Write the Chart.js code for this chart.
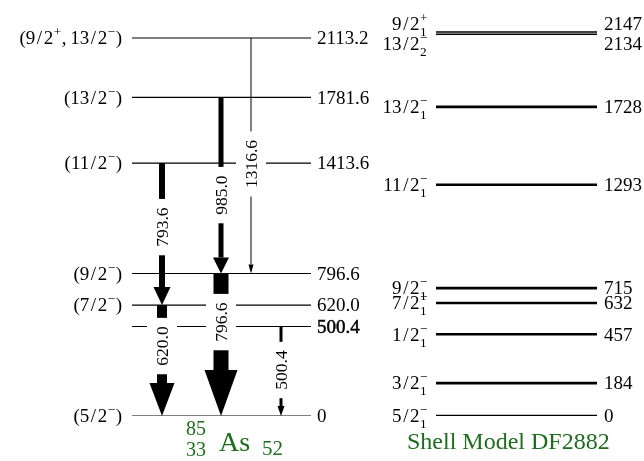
<!DOCTYPE html>
<html lang="en">
<head>
<meta charset="utf-8">
<title>85As level scheme</title>
<script src="https://cdn.jsdelivr.net/npm/chart.js@4.4.1/dist/chart.umd.min.js"></script>
<style>
  html, body { margin: 0; padding: 0; background: #fff; }
  #schema { display: block; }
</style>
</head>
<body>
<canvas id="schema" width="644" height="461"></canvas>
<script>
// === Données : niveaux expérimentaux (keV) ===
const niveauxExp = [2113.2, 1781.6, 1413.6, 796.6, 620.0, 500.4, 0];
const etiquettesExp = ["2113.2", "1781.6", "1413.6", "796.6", "620.0", "500.4", "0"];
const spinsExp = ["(9/2^{+},\u200913/2^{−})", "(13/2^{−})", "(11/2^{−})", "(9/2^{−})", "(7/2^{−})", "", "(5/2^{−})"];

// === Données : modèle en couches DF2882 (keV) ===
const niveauxTheo = [2147, 2134, 1728, 1293, 715, 632, 457, 184, 0];
const etiquettesTheo = ["2147", "2134", "1728", "1293", "715", "632", "457", "184", "0"];
const spinsTheo = ["9/2^{+}_{1}", "13/2^{−}_{2}", "13/2^{−}_{1}", "11/2^{−}_{1}", "9/2^{−}_{1}",
                   "7/2^{−}_{1}", "1/2^{−}_{1}", "3/2^{−}_{1}", "5/2^{−}_{1}"];

// === Données : transitions gamma ===
const gammas = ["793.6", "985.0", "1316.6", "620.0", "796.6", "500.4"];
const gammaDepart = [1413.6, 1781.6, 2113.2, 620.0, 796.6, 500.4];
const gammaArrivee = [620.0, 796.6, 796.6, 0, 0, 0];

// === Mise en page ===
const colonnesGamma = [162, 221, 251, 162, 221, 281];
const largeursGamma = [6, 5, 1, 10, 15, 3];
const tetesGamma = [[17, 18], [16, 16], [5, 9], [25, 33], [33, 46], [7, 10]]; // largeur, longueur (px)
const milieuxEtiquettes = [1056, 1235, 1409, 391, 525, 257]; // keV
const decalagesTheo = [-8, 9, 0, 0, 0, 0, 0, 0, 0]; // px
const epaisseursTheo = [1.6, 1.6, 2.6, 2.6, 2.6, 2.6, 2.6, 2.6, 2.6];
const etiquettesGrasses = ["500.4"];
const POLICE = "'Liberation Serif', 'Times New Roman', serif";
const TAILLE = 19;
const VERT = "#1f6c1f";

// === Texte avec exposants / indices ===
function texteRiche(c, src, x, y, taille, align) {
  const morceaux = [];
  const re = /\^\{([^}]*)\}|_\{([^}]*)\}|([^^_]+)/g;
  let m;
  while ((m = re.exec(src))) {
    if (m[1] !== undefined) morceaux.push({ type: "sup", s: m[1] });
    else if (m[2] !== undefined) morceaux.push({ type: "sub", s: m[2] });
    else morceaux.push({ type: "n", s: m[3].replace(/\//g, "\u200A/\u200A") });
  }
  const petite = taille * 0.7;
  const pos = [];
  let total = 0, debutSup = null, largSup = 0;
  morceaux.forEach(p => {
    c.font = (p.type === "n" ? taille : petite) + "px " + POLICE;
    const w = c.measureText(p.s).width + (p.type === "n" ? 0 : 1);
    if (p.type === "sub" && debutSup !== null) {
      pos.push(debutSup);
      total = debutSup + Math.max(largSup, w);
      debutSup = null;
    } else {
      pos.push(total);
      if (p.type === "sup") { debutSup = total; largSup = w; } else debutSup = null;
      total += w;
    }
  });
  const x0 = align === "right" ? x - total : x;
  const base = y + taille * 0.33;
  c.textAlign = "left";
  c.textBaseline = "alphabetic";
  morceaux.forEach((p, k) => {
    c.font = (p.type === "n" ? taille : petite) + "px " + POLICE;
    let dy = 0;
    if (p.type === "sup") dy = -taille * 0.42;
    if (p.type === "sub") dy = taille * 0.32;
    c.fillText(p.s, x0 + pos[k] + (p.type === "n" ? 0 : 0.5), base + dy);
  });
}

// === Plugin : flèches, étiquettes, titres ===
const dessinSchema = {
  id: "dessinSchema",
  afterDatasetsDraw(chart) {
    const c = chart.ctx;
    const sx = chart.scales.x, sy = chart.scales.y;
    c.save();

    // flèches gamma
    c.fillStyle = "#000";
    gammas.forEach((g, i) => {
      const x = sx.getPixelForValue(colonnesGamma[i]);
      const y0 = sy.getPixelForValue(gammaDepart[i]);
      const y1 = sy.getPixelForValue(gammaArrivee[i]);
      const [lt, ht] = tetesGamma[i];
      const w = largeursGamma[i];
      c.fillRect(x - w / 2, y0, w, y1 - ht - y0);
      c.beginPath();
      c.moveTo(x - lt / 2, y1 - ht);
      c.lineTo(x + lt / 2, y1 - ht);
      c.lineTo(x, y1);
      c.closePath();
      c.fill();
    });

    // énergies gamma (boîte blanche + texte vertical)
    c.font = "17.5px " + POLICE;
    gammas.forEach((g, i) => {
      const x = sx.getPixelForValue(colonnesGamma[i]);
      const yc = sy.getPixelForValue(milieuxEtiquettes[i]);
      const lw = c.measureText(g).width;
      const h = lw + 17;
      c.fillStyle = "#fff";
      c.fillRect(x - 15, yc - h / 2, 30, h);
      c.save();
      c.translate(x, yc);
      c.rotate(-Math.PI / 2);
      c.fillStyle = "#000";
      c.textAlign = "center";
      c.textBaseline = "alphabetic";
      c.fillText(g, 0, 6);
      c.restore();
    });

    // niveaux expérimentaux : spins et énergies
    c.fillStyle = "#000";
    c.strokeStyle = "#000";
    niveauxExp.forEach((e, i) => {
      const y = sy.getPixelForValue(e);
      if (spinsExp[i]) texteRiche(c, spinsExp[i], sx.getPixelForValue(122), y, TAILLE, "right");
      c.font = TAILLE + "px " + POLICE;
      c.textAlign = "left";
      c.textBaseline = "alphabetic";
      const xe = sx.getPixelForValue(317);
      c.fillText(etiquettesExp[i], xe, y + TAILLE * 0.33);
      if (etiquettesGrasses.includes(etiquettesExp[i])) {
        c.lineWidth = 0.5;
        c.strokeText(etiquettesExp[i], xe, y + TAILLE * 0.33);
      }
    });

    // modèle en couches : spins et énergies
    niveauxTheo.forEach((e, i) => {
      const y = sy.getPixelForValue(e) + decalagesTheo[i];
      texteRiche(c, spinsTheo[i], sx.getPixelForValue(428), y, TAILLE, "right");
      c.font = TAILLE + "px " + POLICE;
      c.textAlign = "left";
      c.textBaseline = "alphabetic";
      c.fillText(etiquettesTheo[i], sx.getPixelForValue(604), y + TAILLE * 0.33);
    });

    // titres
    c.fillStyle = VERT;
    c.textBaseline = "alphabetic";
    c.font = "20px " + POLICE;
    c.textAlign = "right";
    c.fillText("85", 206, 435);
    c.fillText("33", 206, 456);
    c.textAlign = "left";
    c.font = "28px " + POLICE;
    c.fillText("As", 219, 451);
    c.font = "21px " + POLICE;
    c.fillText("52", 262, 455);
    c.font = "24px " + POLICE;
    c.fillText("Shell Model DF2882", 407, 449);

    c.restore();
  }
};

// === Lignes de niveaux ===
const jeuxNiveaux = [
  ...niveauxExp.map(e => ({
    data: [{ x: 132, y: e }, { x: 311, y: e }],
    borderColor: "#000", borderWidth: 1.2, pointRadius: 0
  })),
  ...niveauxTheo.map((e, i) => ({
    data: [{ x: 436, y: e }, { x: 597, y: e }],
    borderColor: "#000", borderWidth: epaisseursTheo[i], pointRadius: 0
  }))
];

// === Graphique Chart.js ===
const ctx = document.getElementById("schema").getContext("2d");
const chart = new Chart(ctx, {
  type: "line",
  data: { datasets: jeuxNiveaux },
  options: {
    responsive: false,
    animation: false,
    devicePixelRatio: 1,
    events: [],
    layout: { padding: { top: 20, bottom: 45, left: 0, right: 0 } },
    scales: {
      x: { type: "linear", min: 0, max: 644, display: false },
      y: { type: "linear", min: 0, max: 2213.8, display: false }
    },
    plugins: { legend: { display: false }, tooltip: { enabled: false } }
  },
  plugins: [dessinSchema]
});
</script>
</body>
</html>
